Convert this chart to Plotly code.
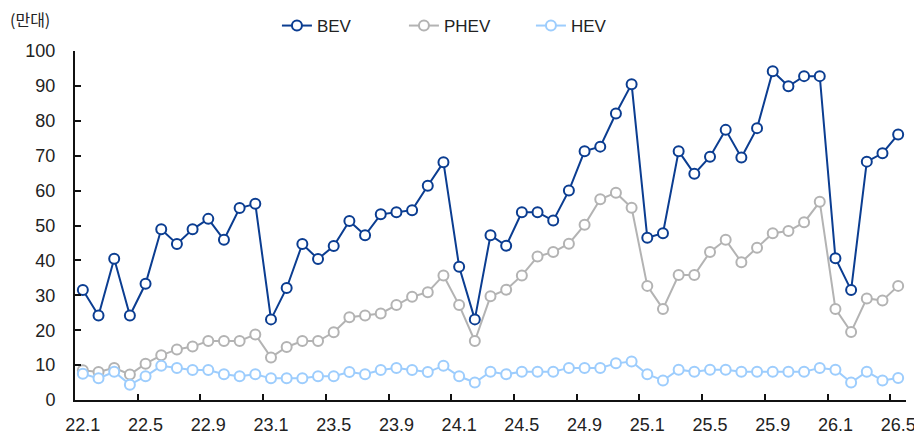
import plotly.graph_objects as go

months = ([f"22.{m}" for m in range(1, 13)] + [f"23.{m}" for m in range(1, 13)] +
          [f"24.{m}" for m in range(1, 13)] + [f"25.{m}" for m in range(1, 13)] +
          [f"26.{m}" for m in range(1, 6)])

bev = [31.5, 24.2, 40.5, 24.2, 33.3, 48.9, 44.7, 48.9, 51.9, 45.9, 55.0, 56.2,
       23.1, 32.1, 44.7, 40.4, 44.1, 51.3, 47.2, 53.2, 53.8, 54.4, 61.4, 68.1,
       38.2, 23.1, 47.2, 44.2, 53.8, 53.8, 51.4, 60.0, 71.3, 72.6, 82.1, 90.5,
       46.5, 47.8, 71.3, 64.8, 69.7, 77.4, 69.5, 77.9, 94.2, 89.9, 92.8, 92.8,
       40.6, 31.5, 68.3, 70.7, 76.1]
phev = [8.5, 8.0, 9.2, 7.3, 10.4, 12.8, 14.5, 15.3, 16.9, 16.9, 16.9, 18.8,
        12.2, 15.2, 16.9, 16.9, 19.4, 23.7, 24.2, 24.8, 27.2, 29.6, 30.9, 35.7,
        27.2, 16.9, 29.7, 31.6, 35.7, 41.1, 42.4, 44.8, 50.2, 57.5, 59.4, 55.1,
        32.7, 26.1, 35.8, 35.8, 42.4, 45.9, 39.5, 43.6, 47.8, 48.4, 50.9, 56.8,
        26.1, 19.5, 29.1, 28.5, 32.7]
hev = [7.5, 6.2, 8.1, 4.4, 6.8, 9.8, 9.2, 8.6, 8.6, 7.4, 6.8, 7.4,
       6.2, 6.2, 6.2, 6.8, 6.8, 8.0, 7.4, 8.6, 9.2, 8.6, 8.0, 9.8,
       6.8, 5.0, 8.1, 7.4, 8.1, 8.1, 8.1, 9.2, 9.2, 9.2, 10.5, 11.0,
       7.4, 5.6, 8.7, 8.1, 8.7, 8.7, 8.1, 8.1, 8.1, 8.1, 8.1, 9.2,
       8.7, 5.0, 8.1, 5.6, 6.3]

tick_labels = months[::4]

series = [("BEV", bev, "#0b3d91"), ("PHEV", phev, "#b3b3b3"), ("HEV", hev, "#9dcdfd")]

fig = go.Figure()
for name, vals, col in series:
    fig.add_trace(go.Scatter(
        x=months, y=vals, name=name, mode="lines+markers",
        line=dict(color=col, width=2),
        marker=dict(symbol="circle", size=10, color="white",
                    line=dict(color=col, width=2)),
    ))

font_family = "Liberation Sans, Arial, sans-serif"
fig.update_layout(
    width=914, height=427,
    margin=dict(l=67, r=16, t=43, b=35),
    paper_bgcolor="white", plot_bgcolor="white",
    font=dict(family=font_family, size=18, color="#222222"),
    showlegend=True,
    legend=dict(orientation="h", x=0.243, xanchor="left",
                yref="container", y=1.0, yanchor="top",
                font=dict(size=17, color="#222222"), entrywidth=82,
                bgcolor="rgba(0,0,0,0)"),
    xaxis=dict(type="category", categoryorder="array", categoryarray=months,
               range=[-0.5, len(months) - 0.5], automargin=False,
               tickmode="array", tickvals=tick_labels, ticktext=tick_labels,
               tickangle=0, ticklabelstandoff=7,
               tickson="boundaries", ticks="inside", ticklen=6, tickwidth=2,
               tickcolor="#111111", showline=True, linecolor="#111111", linewidth=2,
               showgrid=False, zeroline=False,
               tickfont=dict(size=18, family=font_family, color="#222222")),
    yaxis=dict(range=[0, 100], dtick=10, ticks="inside", ticklen=6, tickwidth=2,
               tickcolor="#111111", showline=True, linecolor="#111111", linewidth=2,
               showgrid=False, zeroline=False, automargin=False,
               ticklabelstandoff=14,
               tickfont=dict(size=18, family=font_family, color="#222222")),
    annotations=[dict(text="(만대)", xref="paper", yref="paper",
                      x=-0.0806, y=1.0917, xanchor="left", yanchor="middle",
                      showarrow=False,
                      font=dict(size=16, family="Noto Sans CJK KR", color="#222222"))],
)

fig.write_html("out.html")
